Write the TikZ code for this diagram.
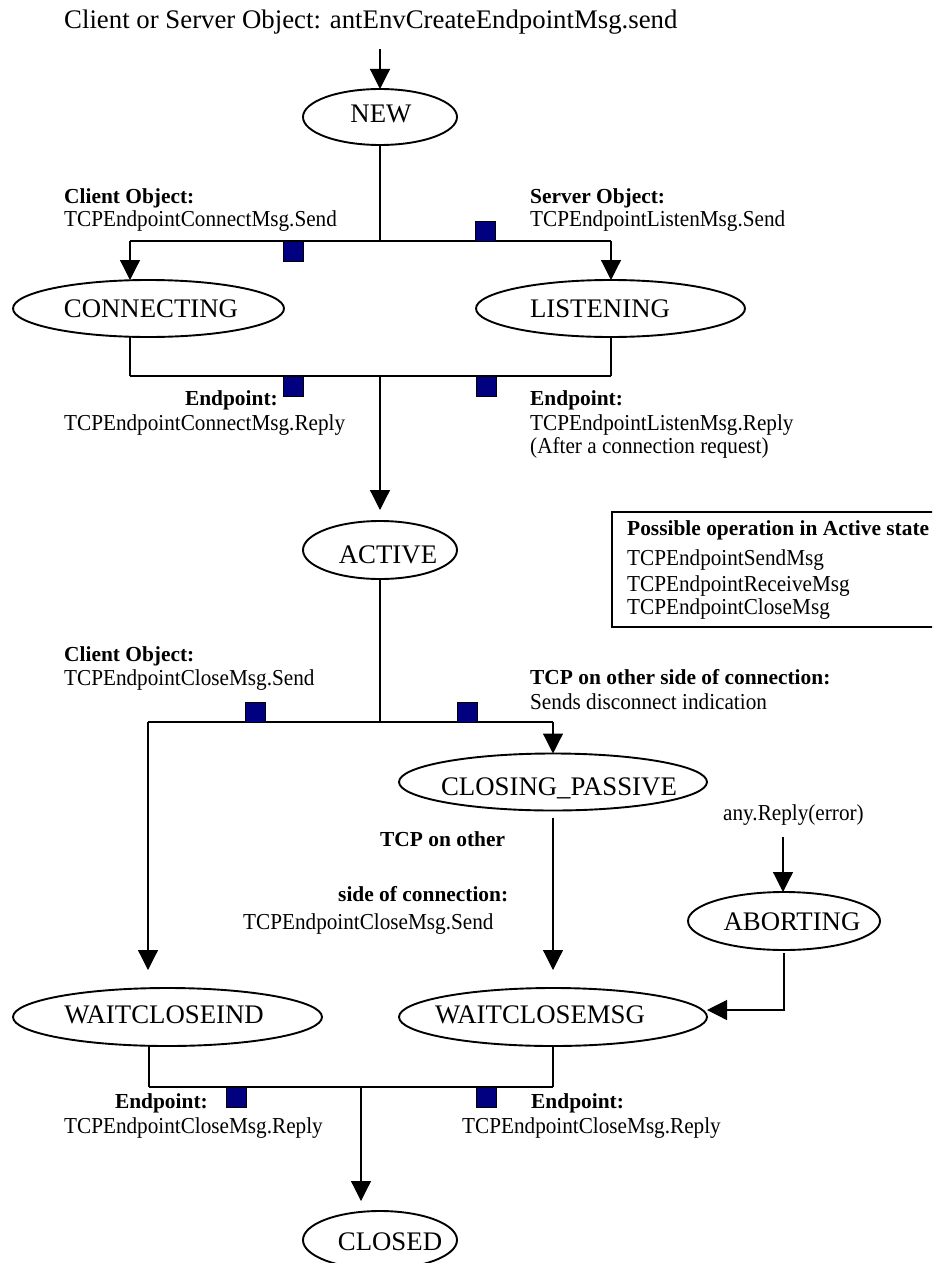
\documentclass[tikz,border=0pt]{standalone}
\usepackage{fontspec}
\setmainfont{Liberation Serif}
\newfontfamily\labelfont[FakeStretch=0.93]{Liberation Serif}
\usetikzlibrary{arrows.meta,shapes.geometric}
\definecolor{evtblue}{RGB}{0,0,128}

\begin{document}
\begin{tikzpicture}[x=1pt,y=-1pt]
\tikzset{
  state/.style={ellipse, draw, line width=1.9pt, inner sep=0pt, outer sep=0pt},
  big/.style={font=\fontsize{26.8}{30}\selectfont, inner sep=0pt, anchor=base},
  txt/.style={font=\labelfont\fontsize{22.8}{25}\selectfont, inner sep=0pt, anchor=base west},
  txtb/.style={font=\fontsize{21.4}{25}\selectfont\bfseries, inner sep=0pt, anchor=base west},
  flow/.style={line width=1.2pt},
  bar/.style={line width=2pt},
  arr/.style={flow, -{Triangle[length=20pt,width=20pt]}},
  evt/.style={draw=black, line width=1pt, fill=evtblue, minimum width=20pt,
              minimum height=20pt, inner sep=0pt, outer sep=0pt},
  opsbox/.style={draw, line width=2pt, inner sep=0pt, anchor=north west,
                 minimum width=340pt, minimum height=115pt},
}
\useasboundingbox (0,0) rectangle (932,1263);
\clip (0,0) rectangle (932,1263);

% title
\node[big, anchor=base west] (title) at (64,29) {Client or Server Object: antEnvCreateEndpointMsg.send};

% states
\node[state, minimum width=154pt, minimum height=56pt] (new)    at (380,117)   {};
\node[state, minimum width=271pt, minimum height=57pt] (conn)   at (148.5,308.5) {};
\node[state, minimum width=269pt, minimum height=57pt] (listen) at (610.5,308.5) {};
\node[state, minimum width=154pt, minimum height=58pt] (active) at (380,550)   {};
\node[state, minimum width=308pt, minimum height=57pt] (cpass)  at (553,782)   {};
\node[state, minimum width=192pt, minimum height=58pt] (abort)  at (784,921)   {};
\node[state, minimum width=309pt, minimum height=58pt] (wci)    at (167.5,1017) {};
\node[state, minimum width=308pt, minimum height=58pt] (wcm)    at (553,1017)  {};
\node[state, minimum width=154pt, minimum height=58pt] (closed) at (380,1240)  {};

\node[big] (newt)    at (381,122)  {NEW};
\node[big] (connt)   at (151,317)  {CONNECTING};
\node[big] (listent) at (600,317)  {LISTENING};
\node[big] (activet) at (388,563)  {ACTIVE};
\node[big] (cpasst)  at (559,795)  {CLOSING\_PASSIVE};
\node[big] (abortt)  at (792,930)  {ABORTING};
\node[big] (wcit)    at (164,1023) {WAITCLOSEIND};
\node[big] (wcmt)    at (540,1023) {WAITCLOSEMSG};
\node[big] (closedt) at (390,1250) {CLOSED};

% junction points
\coordinate (start) at (380,49);
\coordinate (j1) at (380,241);  \coordinate (b1l) at (130,241);  \coordinate (b1r) at (611,241);
\coordinate (j2) at (380,376);  \coordinate (b2l) at (130,376);  \coordinate (b2r) at (611,376);
\coordinate (j3) at (380,722);  \coordinate (b3l) at (148,722);  \coordinate (b3r) at (553,722);
\coordinate (j4) at (361,1087); \coordinate (b4l) at (149,1087); \coordinate (b4r) at (553,1087);
\coordinate (errtop) at (783,837);

% connectors
\draw[arr] (start) -- (new.north);
\draw[flow] (new.south) -- (j1);
\draw[bar] (b1l) -- (b1r);
\draw[arr] (b1l) -- (b1l |- conn.north);
\draw[arr] (b1r) -- (b1r |- listen.north);
\draw[flow] (b2l |- conn.south) -- (b2l);
\draw[flow] (b2r |- listen.south) -- (b2r);
\draw[bar] (b2l) -- (b2r);
\draw[arr, shorten >=11pt] (j2) -- (active.north);
\draw[flow] (active.south) -- (j3);
\draw[bar] (b3l) -- (b3r);
\draw[arr] (b3r) -- (cpass.north);
\draw[arr, shorten >=18pt] (b3l) -- (b3l |- wci.north);
\draw[arr, shorten >=18pt] ([yshift=-7pt]cpass.south) -- (wcm.north);
\draw[arr] (errtop) -- (errtop |- abort.north);
\draw[arr] ([yshift=-3pt]abort.south) |- ([yshift=7pt]wcm.east);
\draw[flow] (b4l |- wci.south) -- (b4l);
\draw[flow] (b4r |- wcm.south) -- (b4r);
\draw[bar] (b4l) -- (b4r);
\draw[arr, shorten >=10pt] (j4) -- (j4 |- closed.north);

% event markers
\node[evt] (e1) at (293,251)  {};
\node[evt] (e2) at (485,231)  {};
\node[evt] (e3) at (293.5,386) {};
\node[evt] (e4) at (486,386)  {};
\node[evt] (e5) at (255,712)  {};
\node[evt] (e6) at (467,712)  {};
\node[evt] (e7) at (236,1097) {};
\node[evt] (e8) at (486,1097) {};

% transition labels
\node[txtb] (l1a) at (64,203)  {Client Object:};
\node[txt]  (l1b) at (64,226)  {TCPEndpointConnectMsg.Send};
\node[txtb] (l2a) at (530,203) {Server Object:};
\node[txt]  (l2b) at (530,226) {TCPEndpointListenMsg.Send};
\node[txtb, anchor=base east] (l3a) at (278,405) {Endpoint:};
\node[txt]  (l3b) at (64,430)  {TCPEndpointConnectMsg.Reply};
\node[txtb] (l4a) at (530,405) {Endpoint:};
\node[txt]  (l4b) at (530,430) {TCPEndpointListenMsg.Reply};
\node[txt]  (l4c) at (530,453) {(After a connection request)};
\node[txtb] (l5a) at (64,661)  {Client Object:};
\node[txt]  (l5b) at (64,685)  {TCPEndpointCloseMsg.Send};
\node[txtb] (l6a) at (530,684) {TCP on other side of connection:};
\node[txt]  (l6b) at (530,709) {Sends disconnect indication};
\node[txt]  (l7)  at (723,820) {any.Reply(error)};
\node[txtb] (l8a) at (380,846) {TCP on other};
\node[txtb] (l8b) at (338,901) {side of connection:};
\node[txt]  (l8c) at (243,929) {TCPEndpointCloseMsg.Send};
\node[txtb, anchor=base east] (l9a) at (208,1108) {Endpoint:};
\node[txt]  (l9b) at (64,1133) {TCPEndpointCloseMsg.Reply};
\node[txtb] (l10a) at (531,1108) {Endpoint:};
\node[txt]  (l10b) at (462,1133) {TCPEndpointCloseMsg.Reply};

% operations box (its right side runs past the edge)
\node[opsbox] (ops) at (611,511) {};
\node[txtb] (o1) at (627,535) {Possible operation in Active state};
\node[txt]  (o2) at (627,565) {TCPEndpointSendMsg};
\node[txt]  (o3) at (627,591) {TCPEndpointReceiveMsg};
\node[txt]  (o4) at (627,614) {TCPEndpointCloseMsg};
\end{tikzpicture}
\end{document}
